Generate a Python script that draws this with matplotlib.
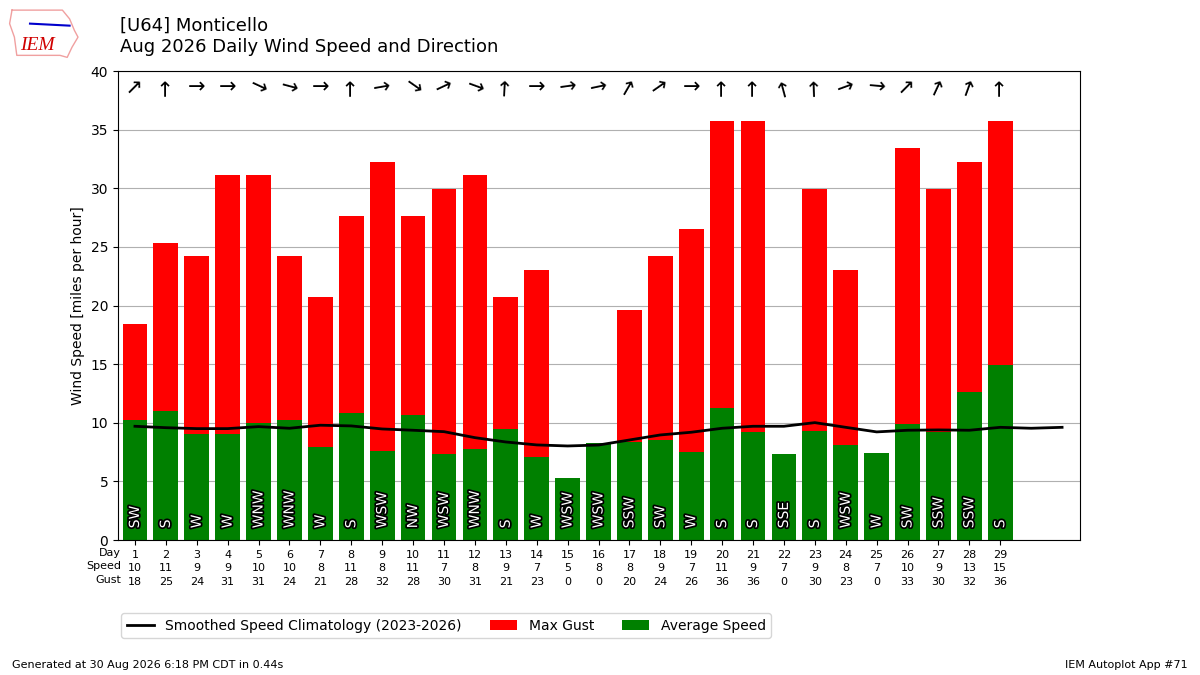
import matplotlib
matplotlib.use("Agg")
import matplotlib.pyplot as plt
import matplotlib.patheffects as pe

# daily values, August 2026
days = list(range(1, 30))
avg_speed = [10.2, 11.0, 9.0, 9.0, 10.0, 10.2, 7.9, 10.8, 7.6, 10.7,
             7.3, 7.8, 9.5, 7.1, 5.3, 8.3, 8.4, 8.5, 7.5, 11.3,
             9.2, 7.3, 9.3, 8.1, 7.4, 9.9, 9.2, 12.6, 14.9]
max_gust = [18.4, 25.3, 24.2, 31.1, 31.1, 24.2, 20.7, 27.6, 32.2, 27.6,
            29.9, 31.1, 20.7, 23.0, 0, 0, 19.6, 24.2, 26.5, 35.7,
            35.7, 0, 29.9, 23.0, 0, 33.4, 29.9, 32.2, 35.7]
speed_lbl = [10, 11, 9, 9, 10, 10, 8, 11, 8, 11, 7, 8, 9, 7, 5,
             8, 8, 9, 7, 11, 9, 7, 9, 8, 7, 10, 9, 13, 15]
gust_lbl = [18, 25, 24, 31, 31, 24, 21, 28, 32, 28, 30, 31, 21, 23, 0,
            0, 20, 24, 26, 36, 36, 0, 30, 23, 0, 33, 30, 32, 36]
dir_txt = ["SW", "S", "W", "W", "WNW", "WNW", "W", "S", "WSW", "NW",
           "WSW", "WNW", "S", "W", "WSW", "WSW", "SSW", "SW", "W", "S",
           "S", "SSE", "S", "WSW", "W", "SW", "SSW", "SSW", "S"]
dir_deg = [225, 180, 270, 270, 295, 285, 270, 180, 260, 305,
           245, 290, 183, 270, 262, 258, 210, 235, 270, 180,
           180, 165, 178, 250, 275, 225, 205, 200, 180]

clim_days = list(range(1, 32))
clim_speed = [9.70, 9.58, 9.50, 9.50, 9.67, 9.53, 9.79, 9.73, 9.47, 9.36,
              9.24, 8.73, 8.36, 8.11, 8.02, 8.10, 8.53, 8.96, 9.19, 9.53,
              9.70, 9.70, 10.01, 9.61, 9.22, 9.36, 9.39, 9.36, 9.61, 9.53, 9.61]

fig = plt.figure(figsize=(12, 6.75), dpi=100)
ax = fig.add_axes([0.0983, 0.2, 0.8017, 0.6948])

ax.bar(days, max_gust, width=0.8, color="red", label="Max Gust", zorder=2)
ax.bar(days, avg_speed, width=0.8, color="green", label="Average Speed", zorder=2)
ax.plot(clim_days, clim_speed, color="k", lw=2, zorder=3,
        label="Smoothed Speed Climatology (2023-2026)")

for d, txt, deg in zip(days, dir_txt, dir_deg):
    ax.text(d, 1, txt, rotation=90, ha="center", va="bottom", color="white",
            fontsize=10, zorder=4,
            path_effects=[pe.withStroke(linewidth=2.5, foreground="k")])
    ax.text(d, 38.6, "\u2192", rotation=(-90 - deg) % 360, rotation_mode="anchor",
            ha="center", va="center", fontsize=15, zorder=4)

ax.set_xlim(0.45, 31.58)
ax.set_ylim(0, 40)
ax.set_xticks(days)
ax.set_xticklabels([f"{d}\n{s}\n{g}" for d, s, g in zip(days, speed_lbl, gust_lbl)],
                   fontsize=8, linespacing=1.45)
ax.text(0.003, -0.016, "Day\nSpeed\nGust", transform=ax.transAxes, ha="right",
        va="top", fontsize=8, linespacing=1.45, multialignment="right")
ax.set_ylabel("Wind Speed [miles per hour]")
ax.grid(axis="y", color="#b0b0b0", zorder=0)
ax.set_axisbelow(True)

fig.text(0.1, 0.975, "[U64] Monticello\nAug 2026 Daily Wind Speed and Direction",
         fontsize=13, va="top", ha="left")

# rough IEM logo
iowa_x = [0.010, 0.052, 0.058, 0.062, 0.065, 0.060, 0.056, 0.050, 0.014, 0.012, 0.008, 0.010]
iowa_y = [0.985, 0.985, 0.972, 0.955, 0.945, 0.930, 0.915, 0.918, 0.918, 0.945, 0.965, 0.985]
fig.add_artist(plt.Line2D(iowa_x, iowa_y, color="#f0a0a0", lw=1,
                          transform=fig.transFigure))
fig.add_artist(plt.Line2D([0.025, 0.058], [0.965, 0.962], color="#0000cc", lw=1.5,
                          transform=fig.transFigure))
fig.text(0.031, 0.932, "IEM", color="#d00000", fontsize=14, family="Liberation Serif",
         style="italic", ha="center", va="center")

handles, labels = ax.get_legend_handles_labels()
fig.legend(handles, labels, ncol=3,
           loc="upper left", bbox_to_anchor=(0.095, 0.102), fontsize=10)

fig.text(0.01, 0.01, "Generated at 30 Aug 2026 6:18 PM CDT in 0.44s", fontsize=8)
fig.text(0.99, 0.01, "IEM Autoplot App #71", fontsize=8, ha="right")

fig.savefig("out.png", dpi=100)
